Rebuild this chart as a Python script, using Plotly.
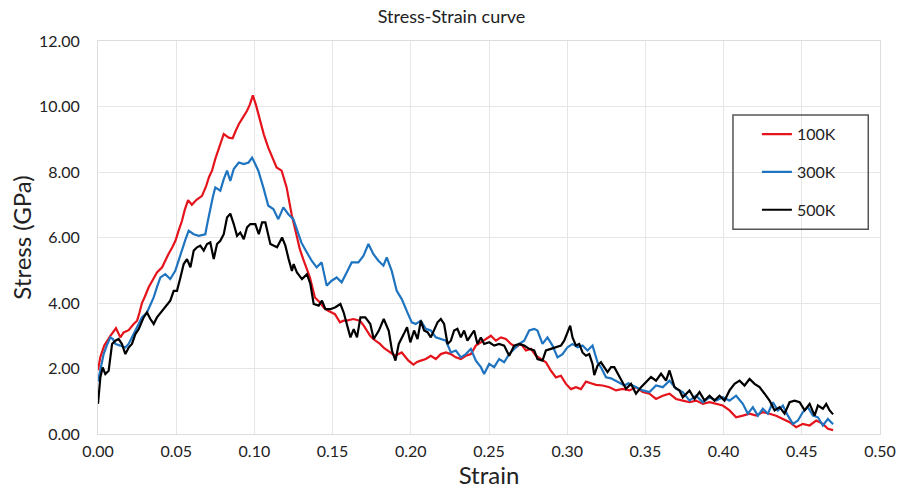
import plotly.graph_objects as go

# ---- data ----
red_strain = [0.0000, 0.0015, 0.0040, 0.0079, 0.0115, 0.0143, 0.0164, 0.0196, 0.0228, 0.0250,
              0.0265, 0.0281, 0.0300, 0.0324, 0.0350, 0.0377, 0.0410, 0.0430, 0.0450, 0.0475,
              0.0495, 0.0515, 0.0537, 0.0555, 0.0576, 0.0600, 0.0630, 0.0665, 0.0690, 0.0710,
              0.0729, 0.0750, 0.0775, 0.0804, 0.0836, 0.0861, 0.0880, 0.0900, 0.0925, 0.0953,
              0.0970, 0.0990, 0.1010, 0.1035, 0.1060, 0.1088, 0.1115, 0.1142, 0.1174, 0.1206,
              0.1238, 0.1270, 0.1290, 0.1312, 0.1335, 0.1355, 0.1387, 0.1419, 0.1445, 0.1472,
              0.1515, 0.1547, 0.1570, 0.1590, 0.1632, 0.1675, 0.1700, 0.1718, 0.1740, 0.1760,
              0.1803, 0.1830, 0.1856, 0.1899, 0.1942, 0.1985, 0.2017, 0.2040, 0.2064, 0.2096,
              0.2128, 0.2160, 0.2192, 0.2224, 0.2256, 0.2288, 0.2320, 0.2352, 0.2384, 0.2416,
              0.2448, 0.2480, 0.2512, 0.2544, 0.2576, 0.2608, 0.2640, 0.2672, 0.2704, 0.2736,
              0.2768, 0.2800, 0.2832, 0.2864, 0.2896, 0.2928, 0.2960, 0.2992, 0.3024, 0.3056,
              0.3088, 0.3120, 0.3152, 0.3184, 0.3227, 0.3270, 0.3312, 0.3355, 0.3398, 0.3440,
              0.3483, 0.3526, 0.3568, 0.3611, 0.3654, 0.3696, 0.3739, 0.3782, 0.3824, 0.3867,
              0.3910, 0.3952, 0.3995, 0.4038, 0.4080, 0.4123, 0.4166, 0.4208, 0.4251, 0.4294,
              0.4336, 0.4379, 0.4422, 0.4464, 0.4507, 0.4550, 0.4592, 0.4635, 0.4667, 0.4700]
red_stress = [1.95, 2.35, 2.70, 3.00, 3.23, 2.95, 3.10, 3.17, 3.36, 3.46,
              3.70, 4.00, 4.20, 4.48, 4.70, 4.93, 5.09, 5.30, 5.49, 5.70,
              5.90, 6.20, 6.51, 6.85, 7.14, 7.00, 7.15, 7.27, 7.55, 7.85,
              8.04, 8.40, 8.75, 9.16, 9.05, 9.03, 9.25, 9.46, 9.65, 9.87,
              10.05, 10.34, 10.05, 9.56, 9.15, 8.75, 8.45, 8.14, 8.04, 7.53,
              6.71, 6.00, 5.65, 5.34, 5.05, 4.78, 4.17, 4.02, 3.85, 3.76,
              3.66, 3.41, 3.46, 3.46, 3.51, 3.46, 3.30, 3.15, 3.00, 2.90,
              2.75, 2.62, 2.54, 2.39, 2.49, 2.24, 2.12, 2.20, 2.24, 2.29,
              2.39, 2.29, 2.44, 2.49, 2.44, 2.34, 2.29, 2.39, 2.44, 2.70,
              2.80, 2.90, 3.00, 2.85, 2.95, 2.90, 2.75, 2.65, 2.75, 2.55,
              2.60, 2.39, 2.29, 2.19, 1.93, 1.73, 1.78, 1.53, 1.37, 1.43,
              1.37, 1.60, 1.55, 1.50, 1.48, 1.43, 1.33, 1.38, 1.33, 1.43,
              1.28, 1.23, 1.07, 1.17, 1.23, 1.07, 1.02, 0.97, 1.02, 0.92,
              0.97, 0.92, 0.87, 0.72, 0.51, 0.56, 0.62, 0.56, 0.67, 0.62,
              0.56, 0.46, 0.36, 0.21, 0.31, 0.26, 0.41, 0.31, 0.16, 0.12]

blue_strain = [0.0000, 0.0015, 0.0036, 0.0060, 0.0079, 0.0095, 0.0111, 0.0143, 0.0175, 0.0196,
               0.0217, 0.0235, 0.0250, 0.0281, 0.0313, 0.0335, 0.0356, 0.0378, 0.0399, 0.0430,
               0.0462, 0.0494, 0.0515, 0.0537, 0.0560, 0.0580, 0.0612, 0.0644, 0.0686, 0.0700,
               0.0718, 0.0735, 0.0750, 0.0782, 0.0804, 0.0825, 0.0846, 0.0868, 0.0900, 0.0932,
               0.0963, 0.0985, 0.1000, 0.1025, 0.1057, 0.1089, 0.1121, 0.1153, 0.1185, 0.1217,
               0.1249, 0.1281, 0.1300, 0.1323, 0.1345, 0.1366, 0.1398, 0.1430, 0.1462, 0.1494,
               0.1526, 0.1558, 0.1590, 0.1622, 0.1665, 0.1697, 0.1729, 0.1761, 0.1793, 0.1825,
               0.1846, 0.1878, 0.1910, 0.1942, 0.1974, 0.2006, 0.2032, 0.2064, 0.2096, 0.2128,
               0.2160, 0.2192, 0.2224, 0.2256, 0.2288, 0.2320, 0.2352, 0.2384, 0.2416, 0.2448,
               0.2469, 0.2501, 0.2533, 0.2565, 0.2597, 0.2629, 0.2661, 0.2693, 0.2725, 0.2757,
               0.2789, 0.2810, 0.2842, 0.2874, 0.2906, 0.2938, 0.2970, 0.3002, 0.3034, 0.3066,
               0.3098, 0.3130, 0.3162, 0.3194, 0.3220, 0.3248, 0.3280, 0.3312, 0.3340, 0.3365,
               0.3392, 0.3419, 0.3450, 0.3483, 0.3526, 0.3568, 0.3611, 0.3654, 0.3696, 0.3739,
               0.3782, 0.3824, 0.3867, 0.3910, 0.3952, 0.3995, 0.4038, 0.4080, 0.4123, 0.4155,
               0.4187, 0.4219, 0.4251, 0.4283, 0.4315, 0.4347, 0.4379, 0.4411, 0.4443, 0.4475,
               0.4507, 0.4539, 0.4571, 0.4603, 0.4635, 0.4667, 0.4700]
blue_stress = [1.60, 2.00, 2.44, 2.75, 2.95, 2.90, 2.75, 2.70, 2.64, 2.75,
               2.95, 3.15, 3.31, 3.56, 3.71, 3.95, 4.17, 4.50, 4.78, 4.88,
               4.73, 4.98, 5.30, 5.60, 5.95, 6.21, 6.10, 6.05, 6.10, 6.45,
               6.92, 7.25, 7.53, 7.43, 7.78, 8.04, 7.73, 8.09, 8.29, 8.24,
               8.29, 8.44, 8.30, 8.04, 7.53, 6.97, 6.87, 6.56, 6.92, 6.71,
               6.56, 6.10, 5.85, 5.65, 5.45, 5.29, 5.09, 5.24, 4.53, 4.68,
               4.78, 4.63, 4.93, 5.24, 5.24, 5.44, 5.80, 5.49, 5.29, 5.14,
               5.39, 4.98, 4.37, 4.12, 3.76, 3.41, 3.36, 3.46, 3.21, 3.16,
               2.95, 2.90, 2.85, 2.49, 2.55, 2.34, 2.44, 2.60, 2.24, 2.04,
               1.83, 2.14, 2.04, 2.29, 2.19, 2.44, 2.60, 2.75, 2.85, 3.16,
               3.21, 3.16, 2.75, 2.95, 2.70, 2.34, 2.44, 2.65, 2.75, 2.65,
               2.70, 2.55, 2.70, 2.19, 2.00, 1.73, 1.70, 1.63, 1.55, 1.48,
               1.55, 1.48, 1.40, 1.33, 1.28, 1.48, 1.43, 1.63, 1.38, 1.28,
               1.02, 1.17, 0.97, 1.12, 1.02, 1.12, 1.02, 1.17, 0.92, 0.62,
               0.82, 0.56, 0.77, 0.62, 0.97, 0.72, 0.87, 0.56, 0.31, 0.41,
               0.67, 0.82, 0.56, 0.51, 0.26, 0.46, 0.30]

black_strain = [0.0000, 0.0015, 0.0030, 0.0047, 0.0068, 0.0090, 0.0111, 0.0132, 0.0153, 0.0175,
                0.0196, 0.0217, 0.0239, 0.0260, 0.0292, 0.0313, 0.0335, 0.0356, 0.0377, 0.0409,
                0.0430, 0.0462, 0.0484, 0.0505, 0.0527, 0.0548, 0.0569, 0.0591, 0.0612, 0.0633,
                0.0654, 0.0676, 0.0697, 0.0718, 0.0740, 0.0761, 0.0782, 0.0804, 0.0825, 0.0846,
                0.0868, 0.0889, 0.0910, 0.0932, 0.0953, 0.0974, 0.1006, 0.1028, 0.1049, 0.1070,
                0.1102, 0.1123, 0.1145, 0.1177, 0.1198, 0.1219, 0.1240, 0.1251, 0.1272, 0.1304,
                0.1336, 0.1358, 0.1379, 0.1411, 0.1432, 0.1454, 0.1486, 0.1518, 0.1550, 0.1571,
                0.1592, 0.1614, 0.1635, 0.1656, 0.1678, 0.1709, 0.1741, 0.1763, 0.1795, 0.1827,
                0.1859, 0.1880, 0.1902, 0.1923, 0.1955, 0.1976, 0.1997, 0.2021, 0.2043, 0.2064,
                0.2085, 0.2107, 0.2128, 0.2149, 0.2171, 0.2192, 0.2213, 0.2235, 0.2256, 0.2277,
                0.2298, 0.2320, 0.2341, 0.2362, 0.2384, 0.2405, 0.2426, 0.2448, 0.2469, 0.2501,
                0.2533, 0.2565, 0.2597, 0.2629, 0.2661, 0.2693, 0.2725, 0.2757, 0.2789, 0.2810,
                0.2842, 0.2864, 0.2896, 0.2928, 0.2960, 0.2981, 0.3002, 0.3019, 0.3034, 0.3056,
                0.3077, 0.3098, 0.3120, 0.3141, 0.3162, 0.3173, 0.3194, 0.3216, 0.3258, 0.3280,
                0.3301, 0.3333, 0.3376, 0.3408, 0.3440, 0.3472, 0.3504, 0.3536, 0.3568, 0.3600,
                0.3632, 0.3654, 0.3686, 0.3718, 0.3739, 0.3782, 0.3814, 0.3846, 0.3878, 0.3910,
                0.3942, 0.3974, 0.4006, 0.4038, 0.4070, 0.4102, 0.4134, 0.4166, 0.4198, 0.4230,
                0.4262, 0.4294, 0.4326, 0.4358, 0.4390, 0.4422, 0.4454, 0.4486, 0.4518, 0.4550,
                0.4582, 0.4603, 0.4635, 0.4656, 0.4678, 0.4700]
black_stress = [0.92, 1.73, 2.03, 1.83, 1.93, 2.75, 2.85, 2.90, 2.75, 2.44,
                2.64, 2.75, 3.05, 3.20, 3.56, 3.71, 3.51, 3.36, 3.56, 3.76,
                3.87, 4.07, 4.37, 4.37, 4.78, 5.19, 5.34, 5.09, 5.60, 5.70,
                5.75, 5.60, 5.80, 5.85, 5.34, 5.80, 5.90, 6.10, 6.61, 6.73,
                6.41, 6.05, 6.15, 5.95, 6.31, 6.41, 6.41, 6.10, 6.46, 6.46,
                5.80, 5.75, 5.70, 6.00, 5.75, 5.34, 4.98, 5.19, 4.93, 4.73,
                4.88, 4.58, 3.97, 3.92, 4.07, 3.81, 3.81, 3.87, 3.97, 3.71,
                3.36, 2.95, 3.20, 2.95, 3.56, 3.56, 3.36, 2.90, 3.15, 3.51,
                3.15, 2.54, 2.24, 2.75, 3.05, 3.26, 2.80, 3.16, 2.90, 3.46,
                3.16, 3.11, 2.95, 3.16, 3.41, 3.51, 3.36, 2.75, 2.85, 3.16,
                3.21, 2.95, 3.16, 2.85, 3.00, 3.16, 2.75, 2.95, 2.75, 2.80,
                2.70, 2.75, 2.70, 2.39, 2.70, 2.75, 2.70, 2.60, 2.55, 2.29,
                2.24, 2.55, 2.60, 2.65, 2.70, 2.85, 3.10, 3.31, 2.95, 2.70,
                2.75, 2.49, 2.39, 2.44, 2.14, 1.80, 2.09, 2.19, 1.89, 2.04,
                2.04, 1.74, 1.38, 1.53, 1.23, 1.43, 1.58, 1.74, 1.63, 1.84,
                1.63, 1.94, 1.43, 1.33, 1.12, 1.33, 1.07, 1.28, 1.02, 1.17,
                1.02, 1.17, 1.02, 1.33, 1.53, 1.63, 1.48, 1.68, 1.53, 1.43,
                1.23, 1.02, 0.72, 0.82, 0.62, 0.97, 1.02, 0.97, 0.72, 0.92,
                0.56, 0.87, 0.77, 0.92, 0.72, 0.60]

series_names = ["100K", "300K", "500K"]
series_colors = ["#e5141c", "#1f74c0", "#000000"]

x_ticks = [0.00, 0.05, 0.10, 0.15, 0.20, 0.25, 0.30, 0.35, 0.40, 0.45, 0.50]
y_ticks = [0.00, 2.00, 4.00, 6.00, 8.00, 10.00, 12.00]

FONT = "Lato, 'Open Sans', sans-serif"

fig = go.Figure()
for name, color, xs, ys in zip(series_names, series_colors,
                               [red_strain, blue_strain, black_strain],
                               [red_stress, blue_stress, black_stress]):
    fig.add_trace(go.Scatter(x=xs, y=ys, mode="lines", name=name, legendgroup=name,
                             line=dict(color=color, width=2.2)))

fig.update_layout(
    width=903, height=492,
    margin=dict(l=98, r=23, t=41, b=58),
    paper_bgcolor="white", plot_bgcolor="white",
    font=dict(family=FONT, color="#222222"),
    title=dict(text="Stress-Strain curve", x=0.5, xanchor="center", y=0.966, yanchor="middle",
               font=dict(size=18, family=FONT, color="#222222")),
    showlegend=True,
    legend=dict(x=0.8426, y=0.806, xanchor="left", yanchor="top",
                bgcolor="rgba(0,0,0,0)", borderwidth=0,
                font=dict(size=16, family=FONT, color="#222222"),
                tracegroupgap=14, itemwidth=30),
    shapes=[dict(type="rect", xref="paper", yref="paper",
                 x0=0.812, x1=0.985, y0=0.521, y1=0.8115,
                 line=dict(color="#555555", width=1.5), fillcolor="rgba(0,0,0,0)")],
)
fig.update_xaxes(range=[0, 0.50], tickvals=x_ticks, ticktext=[f"{v:.2f}" for v in x_ticks],
                 automargin=False,
                 showgrid=True, gridcolor="#e6e6e6", gridwidth=1, zeroline=False,
                 showline=True, linecolor="#dddddd", linewidth=1, mirror=True,
                 ticks="", ticklabelstandoff=3, tickfont=dict(size=16, family=FONT, color="#222222"),
                 title=dict(text="Strain", font=dict(size=24, family=FONT, color="#222222"), standoff=6))
fig.update_yaxes(range=[0, 12], tickvals=y_ticks, ticktext=[f"{v:.2f}" for v in y_ticks],
                 automargin=False,
                 showgrid=True, gridcolor="#e6e6e6", gridwidth=1, zeroline=False,
                 showline=True, linecolor="#dddddd", linewidth=1, mirror=True,
                 ticks="", ticklabelstandoff=14, tickfont=dict(size=16, family=FONT, color="#222222"),
                 title=dict(text="Stress (GPa)", font=dict(size=24, family=FONT, color="#222222"), standoff=0))

fig.write_html("out.html", config={"displayModeBar": False},
               post_script="document.body.style.margin='0';document.body.style.overflow='hidden';")
